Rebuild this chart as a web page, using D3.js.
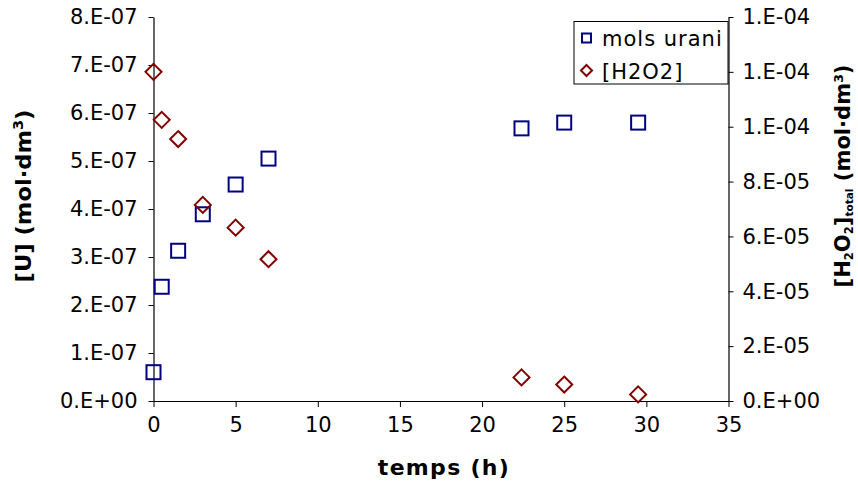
<!DOCTYPE html>
<html>
<head>
<meta charset="utf-8">
<script src="https://cdn.jsdelivr.net/npm/d3@7"></script>
<style>
  html, body { margin: 0; padding: 0; background: #fff; }
  svg { display: block; font-family: "DejaVu Sans", Verdana, sans-serif; }
</style>
</head>
<body>
<svg id="chart" width="858" height="484"></svg>
<script>
// Time (h) for each sample
const hours = [0, 0.5, 1.5, 3, 5, 7, 22.4, 25, 29.5];
// Dissolved uranium (mol·dm⁻³), left axis
const uranium = [6.0e-8, 2.38e-7, 3.13e-7, 3.89e-7, 4.51e-7, 5.05e-7, 5.68e-7, 5.80e-7, 5.80e-7];
// Total hydrogen peroxide (mol·dm⁻³), right axis
const peroxide = [1.20e-4, 1.025e-4, 9.55e-5, 7.15e-5, 6.32e-5, 5.17e-5, 8.6e-6, 6.0e-6, 2.4e-6];

const xTickValues = [0, 5, 10, 15, 20, 25, 30, 35];
const leftTickValues = [0, 1e-7, 2e-7, 3e-7, 4e-7, 5e-7, 6e-7, 7e-7, 8e-7];
const leftTickLabels = ["0.E+00", "1.E-07", "2.E-07", "3.E-07", "4.E-07", "5.E-07", "6.E-07", "7.E-07", "8.E-07"];
const rightTickValues = [0, 2e-5, 4e-5, 6e-5, 8e-5, 1.0e-4, 1.2e-4, 1.4e-4];
const rightTickLabels = ["0.E+00", "2.E-05", "4.E-05", "6.E-05", "8.E-05", "1.E-04", "1.E-04", "1.E-04"];

const seriesNames = ["mols urani", "[H2O2]"];
const uColor = "#000080";
const hColor = "#800000";

const plot = { left: 153.5, right: 728.5, top: 17, bottom: 401 };
const svg = d3.select("#chart");

const x = d3.scaleLinear().domain([0, 35]).range([plot.left, plot.right]);
const yL = d3.scaleLinear().domain([0, 8e-7]).range([plot.bottom, plot.top]);
const yR = d3.scaleLinear().domain([0, 1.4e-4]).range([plot.bottom, plot.top]);

const tickFont = 21;

function styleAxis(g) {
  g.selectAll("path.domain").attr("stroke", "#000").attr("stroke-width", 1.2);
  g.selectAll(".tick line").attr("stroke", "#000").attr("stroke-width", 1);
  g.selectAll(".tick text")
    .attr("fill", "#000")
    .style("font-family", '"DejaVu Sans", Verdana, sans-serif')
    .style("font-size", tickFont + "px");
}

// Bottom axis
svg.append("g")
  .attr("transform", `translate(0,${plot.bottom})`)
  .call(d3.axisBottom(x).tickValues(xTickValues).tickFormat(d3.format("d")).tickSize(6).tickPadding(10).tickSizeOuter(0))
  .call(styleAxis);

// Left axis
const lbl = new Map(leftTickValues.map((v, i) => [v, leftTickLabels[i]]));
svg.append("g")
  .attr("transform", `translate(${plot.left},0)`)
  .call(d3.axisLeft(yL).tickValues(leftTickValues).tickFormat(d => lbl.get(d)).tickSize(5).tickPadding(11).tickSizeOuter(0))
  .call(styleAxis);

// Right axis
const rbl = new Map(rightTickValues.map((v, i) => [v, rightTickLabels[i]]));
svg.append("g")
  .attr("transform", `translate(${plot.right},0)`)
  .call(d3.axisRight(yR).tickValues(rightTickValues).tickFormat(d => rbl.get(d)).tickSize(5).tickPadding(9).tickSizeOuter(0))
  .call(styleAxis);

// Uranium: open squares
const sq = 14;
svg.append("g").selectAll("rect")
  .data(hours.map((h, i) => [h, uranium[i]]))
  .join("rect")
  .attr("x", d => x(d[0]) - sq / 2)
  .attr("y", d => yL(d[1]) - sq / 2)
  .attr("width", sq).attr("height", sq)
  .attr("fill", "none").attr("stroke", uColor).attr("stroke-width", 2);

// Peroxide: open diamonds
const dm = 8;
const diamond = (cx, cy, r) => `M${cx},${cy - r}L${cx + r},${cy}L${cx},${cy + r}L${cx - r},${cy}Z`;
svg.append("g").selectAll("path")
  .data(hours.map((h, i) => [h, peroxide[i]]))
  .join("path")
  .attr("d", d => diamond(x(d[0]), yR(d[1]), dm))
  .attr("fill", "none").attr("stroke", hColor).attr("stroke-width", 2);

// Legend
const lg = svg.append("g");
lg.append("rect")
  .attr("x", 574).attr("y", 21.5).attr("width", 154).attr("height", 62.5)
  .attr("fill", "#fff").attr("stroke", "#000").attr("stroke-width", 1);
lg.append("rect")
  .attr("x", 582).attr("y", 33.5).attr("width", 9).attr("height", 9)
  .attr("fill", "none").attr("stroke", uColor).attr("stroke-width", 2);
lg.append("path")
  .attr("d", diamond(586.5, 70.5, 5.5))
  .attr("fill", "none").attr("stroke", hColor).attr("stroke-width", 2);
lg.selectAll("text.item")
  .data(seriesNames)
  .join("text")
  .attr("class", "item")
  .attr("x", 602)
  .attr("y", (d, i) => 46 + i * 32.5)
  .style("font-size", "21px")
  .style("letter-spacing", "1px")
  .attr("fill", "#000")
  .text(d => d);

// Axis titles
svg.append("text")
  .attr("x", 444).attr("y", 475)
  .attr("text-anchor", "middle")
  .style("font-size", "22px").style("font-weight", "bold")
  .style("letter-spacing", "1.3px")
  .text("temps (h)");

// Fit a rotated title to a given length along its reading direction
function fitRotated(textSel, cx, cy, len) {
  const w = textSel.node().getComputedTextLength();
  const k = len / w;
  textSel.attr("transform", `translate(${cx},${cy}) rotate(-90) scale(${k},1)`);
}

const lt = svg.append("text")
  .attr("text-anchor", "middle")
  .style("font-size", "22px").style("font-weight", "bold");
lt.append("tspan").text("[U]  (mol·dm");
lt.append("tspan").attr("baseline-shift", "super").style("font-size", "14px").text("3");
lt.append("tspan").text(")");
fitRotated(lt, 31, 196, 173);

const rt = svg.append("text")
  .attr("text-anchor", "middle")
  .style("font-size", "22px").style("font-weight", "bold");
rt.append("tspan").text("[H");
rt.append("tspan").attr("baseline-shift", "-3px").style("font-size", "12px").text("2");
rt.append("tspan").text("O");
rt.append("tspan").attr("baseline-shift", "-3px").style("font-size", "12px").text("2");
rt.append("tspan").text("]");
rt.append("tspan").attr("baseline-shift", "-3px").style("font-size", "11px").text("total");
rt.append("tspan").text(" (mol·dm");
rt.append("tspan").attr("baseline-shift", "super").style("font-size", "13px").text("3");
rt.append("tspan").text(")");
fitRotated(rt, 850, 176, 223);
</script>
</body>
</html>
